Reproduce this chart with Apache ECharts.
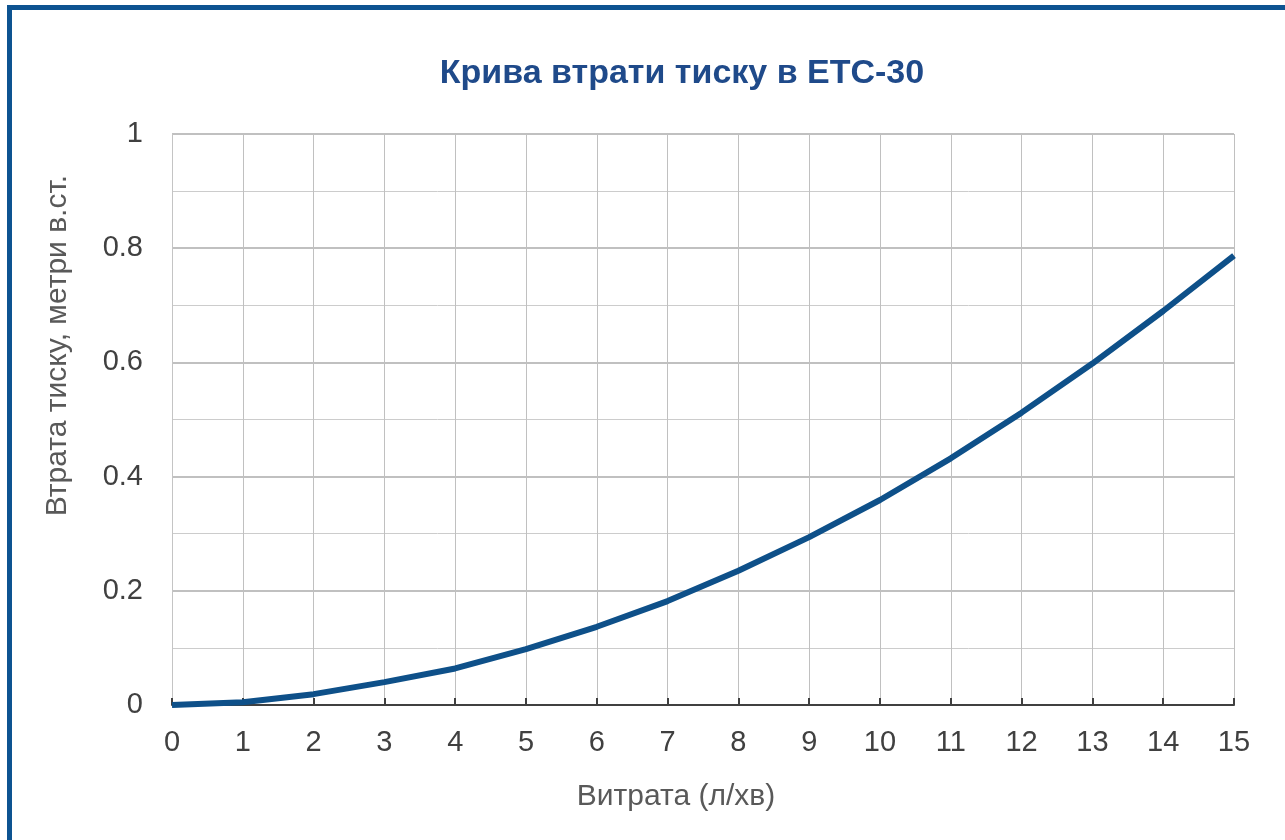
<!DOCTYPE html>
<html>
<head>
<meta charset="utf-8">
<script src="https://cdn.jsdelivr.net/npm/echarts@6/dist/echarts.min.js"></script>
<style>
html, body { margin: 0; padding: 0; background: #fff; }
#frame { position: absolute; left: 7px; top: 5px; width: 1400px; height: 900px;
	border-left: 5px solid #0d5391; border-top: 5px solid #0d5391; }
#main { position: absolute; left: 0; top: 0; width: 1285px; height: 840px; }
</style>
</head>
<body>
<div id="frame"></div>
<div id="main"></div>
<script>
// витрата, л/хв
var flow = [0, 1, 2, 3, 4, 5, 6, 7, 8, 9, 10, 11, 12, 13, 14, 15];
// втрата тиску, м в.ст.
var loss = [0, 0.005, 0.019, 0.04, 0.064, 0.098, 0.137, 0.182, 0.235, 0.294, 0.359, 0.432, 0.512, 0.598, 0.69, 0.787];

var myChart = echarts.init(document.getElementById('main'));
var pts = [];
for (var i = 0; i < flow.length; i++) {
	pts.push([flow[i], loss[i]]);
}
var font = 'Liberation Sans, Arial, sans-serif';
var option = {
	animation: false,
	title: {
		text: 'Крива втрати тиску в ЕТС-30',
		left: 677,
		textAlign: 'center',
		top: 52,
		textStyle: { fontFamily: font, fontSize: 34, fontWeight: 'bold', color: '#1f4a8a' }
	},
	grid: { left: 172, right: 51, top: 134, bottom: 135 },
	xAxis: {
		type: 'value',
		min: 0, max: 15, interval: 1,
		name: 'Витрата (л/хв)',
		nameLocation: 'middle',
		nameGap: 77,
		nameTextStyle: { fontFamily: font, fontSize: 30, color: '#595959', padding: [0, 54, 0, 0] },
		axisLine: { show: true, onZero: false, lineStyle: { color: '#404040', width: 2 } },
		axisTick: { show: true, inside: true, length: 7, lineStyle: { color: '#404040', width: 2 } },
		axisLabel: { fontFamily: font, fontSize: 29, color: '#404040', margin: 23 },
		splitLine: { show: true, lineStyle: { color: '#c0c0c0', width: 1 } }
	},
	yAxis: {
		type: 'value',
		min: 0, max: 1, interval: 0.2,
		name: 'Втрата тиску, метри в.ст.',
		nameLocation: 'middle',
		nameGap: 99,
		nameTextStyle: { fontFamily: font, fontSize: 30, color: '#595959', padding: [0, 0, 0, 148] },
		axisLine: { show: true, lineStyle: { color: '#c4c4c4', width: 1 } },
		axisTick: { show: false },
		axisLabel: { fontFamily: font, fontSize: 29, color: '#404040', margin: 29 },
		splitLine: { show: true, lineStyle: { color: '#c0c0c0', width: 2 } },
		minorTick: { show: false, splitNumber: 2 },
		minorSplitLine: { show: true, lineStyle: { color: '#cccccc', width: 1 } }
	},
	series: [
		{
			name: 'Втрата тиску',
			type: 'line',
			data: pts,
			showSymbol: false,
			smooth: false,
			lineStyle: { color: '#0e5089', width: 6 }
		}
	]
};
myChart.setOption(option);
</script>
</body>
</html>
